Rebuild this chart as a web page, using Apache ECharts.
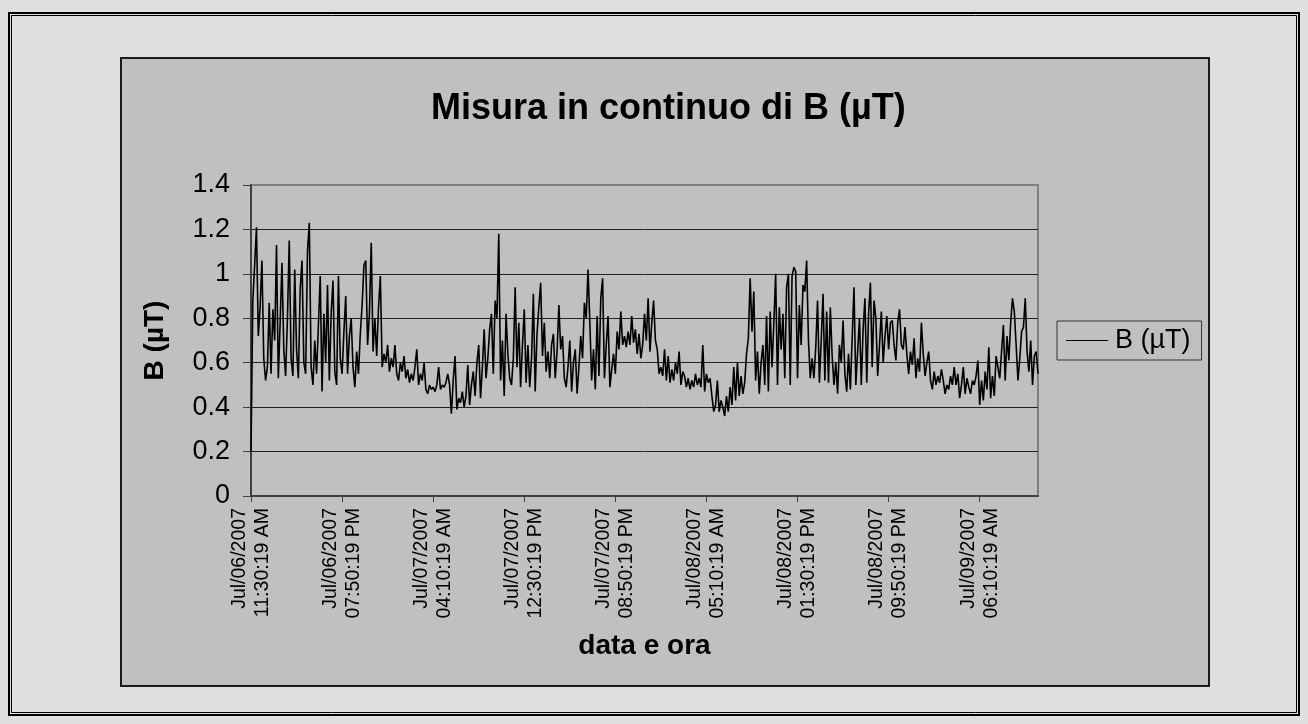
<!DOCTYPE html>
<html>
<head>
<meta charset="utf-8">
<script src="https://cdn.jsdelivr.net/npm/echarts@6/dist/echarts.min.js"></script>
<style>
html,body{margin:0;padding:0;background:#DFDFDF;}
#c{width:1308px;height:724px;}
</style>
</head>
<body>
<div id="c"></div>
<script>
// Title and series name
const chartTitle = 'Misura in continuo di B (µT)';
const seriesName = 'B (µT)';
const xTitle = 'data e ora';
const yTitle = 'B (µT)';

// Tick labels shown every 50 samples (10-minute samples, 500 min apart)
const tickLabels = [
  'Jul/06/2007\n11:30:19 AM',
  'Jul/06/2007\n07:50:19 PM',
  'Jul/07/2007\n04:10:19 AM',
  'Jul/07/2007\n12:30:19 PM',
  'Jul/07/2007\n08:50:19 PM',
  'Jul/08/2007\n05:10:19 AM',
  'Jul/08/2007\n01:30:19 PM',
  'Jul/08/2007\n09:50:19 PM',
  'Jul/09/2007\n06:10:19 AM'
];
const tickEvery = 50;

// B values (µT)
const valuesA = [
0.20,0.88,1.04,1.21,0.72,0.85,1.06,0.62,0.52,0.58,
0.87,0.55,0.84,0.70,1.13,0.53,0.78,1.05,0.66,0.54,
0.80,1.15,0.62,0.54,1.02,0.66,0.53,0.93,1.06,0.60,
0.55,1.10,1.23,0.58,0.50,0.70,0.55,0.77,0.99,0.47,
0.82,0.60,0.95,0.52,0.82,0.97,0.56,0.50,0.99,0.62,
0.55,0.74,0.90,0.55,0.72,0.80,0.58,0.49,0.65,0.55,
0.73,0.86,1.04,1.06,0.68,0.82,1.14,0.65,0.80,0.63,
0.85,0.99,0.58,0.64,0.60,0.68,0.56,0.62,0.58,0.68,
0.55,0.52,0.60,0.56,0.63,0.53,0.57,0.51,0.55,0.52,
0.58,0.66,0.50,0.55,0.52,0.60,0.48,0.46,0.50,0.48,
0.49,0.47,0.50,0.58,0.48,0.50,0.49,0.51
];
const valuesB = [
0.55,0.50,0.37,0.52,0.63,0.39,0.44,0.42,0.47,0.40,
0.45,0.59,0.41,0.50,0.56,0.45,0.60,0.68,0.44,0.58,
0.75,0.53,0.62,0.75,0.82,0.55,0.88,0.80,1.18,0.52,
0.70,0.45,0.82,0.64,0.53,0.50,0.62,0.94,0.58,0.78,
0.49,0.68,0.84,0.51,0.68,0.49,0.62,0.91,0.47,0.73,
0.85,0.96,0.63,0.78,0.56,0.65,0.53,0.68,0.73,0.53,
0.65,0.86,0.66,0.72,0.53,0.49,0.58,0.70,0.47,0.60,
0.66,0.46,0.58,0.72,0.62,0.87,0.80,1.02,0.78,0.52,
0.66,0.48,0.81,0.54,0.89,0.98,0.53,0.68,0.81,0.49,
0.57,0.64,0.55,0.74,0.66,0.83,0.68,0.72,0.67,0.74,
0.68,0.81,0.69,0.75,0.64,0.73,0.62,0.68,0.82
];
const valuesC = [
0.70,0.89,0.65,0.78,0.88,0.70,0.66,0.55,0.58,0.54,
0.66,0.52,0.63,0.51,0.57,0.52,0.60,0.55,0.65,0.50,
0.56,0.54,0.49,0.53,0.48,0.52,0.49,0.55,0.50,0.53,
0.49,0.68,0.47,0.55,0.51,0.53,0.45,0.38,0.41,0.52,
0.38,0.43,0.40,0.36,0.45,0.38,0.49,0.41,0.58,0.43,
0.60,0.45,0.54,0.46,0.51,0.64,0.71,0.98,0.74,0.92,
0.52,0.65,0.46,0.60,0.68,0.50,0.81,0.47,0.83,0.58,
0.78,1.00,0.50,0.85,0.66,0.82,0.53,0.94,1.00,0.50,
0.99,1.03,1.01,0.53,0.86,0.68,0.95,0.92,1.06,0.70,
0.53,0.62,0.53,0.67,0.88,0.51,0.70,0.91,0.52,0.83,
0.51,0.85,0.63,0.50,0.60,0.46,0.68,0.60,0.79
];
const valuesD = [
0.55,0.47,0.64,0.48,0.71,0.94,0.50,0.65,0.80,0.50,
0.75,0.89,0.51,0.82,0.96,0.58,0.88,0.80,0.54,0.68,
0.83,0.60,0.72,0.81,0.66,0.78,0.79,0.68,0.61,0.78,
0.84,0.68,0.66,0.76,0.64,0.55,0.65,0.59,0.71,0.53,
0.62,0.56,0.78,0.64,0.54,0.60,0.65,0.52,0.48,0.56,
0.50,0.54,0.51,0.57,0.52,0.46,0.50,0.48,0.54,0.50,
0.58,0.50,0.55,0.44,0.50,0.58,0.46,0.53,0.49,0.46,
0.52,0.50,0.54,0.61,0.41,0.52,0.43,0.56,0.48,0.67,
0.44,0.54,0.45,0.63,0.58,0.53,0.65,0.77,0.52,0.72,
0.61,0.78,0.89,0.83,0.68,0.52,0.62,0.74,0.76,0.89,
0.65,0.56,0.70,0.50,0.63,0.65,0.55
];
const values = valuesA.concat(valuesB, valuesC, valuesD);
const categories = values.map((v, i) => String(i));

const FONT = '"Liberation Sans", Arial, sans-serif';
const chart = echarts.init(document.getElementById('c'), null, {renderer: 'canvas'});

chart.setOption({
  animation: false,
  backgroundColor: '#DFDFDF',
  textStyle: {fontFamily: FONT, color: '#000'},
  graphic: [
    {type: 'rect', z: -10, shape: {x: 9, y: 13, width: 1290, height: 702},
     style: {fill: 'none', stroke: '#000', lineWidth: 2}},
    {type: 'rect', z: -10, shape: {x: 11.5, y: 15.5, width: 1285, height: 697},
     style: {fill: 'none', stroke: '#000', lineWidth: 1}},
    {type: 'rect', z: -10, shape: {x: 121, y: 58, width: 1088, height: 628},
     style: {fill: '#C0C0C0', stroke: '#1a1a1a', lineWidth: 2}}
  ],
  title: {
    text: chartTitle,
    left: 426, top: 86,
    textStyle: {fontFamily: FONT, fontSize: 36, fontWeight: 'bold', color: '#000'}
  },
  legend: {
    data: [seriesName],
    left: 1057, top: 321,
    orient: 'vertical',
    padding: [6, 11, 6, 9],
    backgroundColor: '#C0C0C0',
    borderColor: '#333',
    borderWidth: 1,
    icon: 'rect',
    itemWidth: 42,
    itemHeight: 1,
    textStyle: {fontFamily: FONT, fontSize: 27, color: '#000', padding: [0, 0, 0, 2]}
  },
  grid: {
    left: 251, top: 185, right: 270, bottom: 228,
    show: true, backgroundColor: '#C0C0C0', borderColor: '#808080', borderWidth: 2
  },
  xAxis: {
    type: 'category',
    data: categories,
    boundaryGap: false,
    name: xTitle,
    nameLocation: 'middle',
    nameGap: 136,
    nameTextStyle: {fontFamily: FONT, fontSize: 28, fontWeight: 'bold', color: '#000'},
    axisLine: {lineStyle: {color: '#404040', width: 2}},
    axisTick: {show: true, interval: tickEvery - 1, length: 6, lineStyle: {color: '#404040', width: 1}},
    axisLabel: {
      interval: tickEvery - 1,
      rotate: 90,
      margin: 12,
      fontFamily: FONT, fontSize: 19.5, lineHeight: 23, color: '#000',
      formatter: function (v, i) { return tickLabels[Math.round(i / tickEvery)] || ''; }
    },
    splitLine: {show: false}
  },
  yAxis: {
    type: 'value',
    min: 0, max: 1.4, interval: 0.2,
    name: yTitle,
    nameLocation: 'middle',
    nameGap: 82,
    nameRotate: 90,
    nameTextStyle: {fontFamily: FONT, fontSize: 28, fontWeight: 'bold', color: '#000'},
    axisLine: {show: true, lineStyle: {color: '#404040', width: 2}},
    axisTick: {show: true, length: 8, lineStyle: {color: '#404040', width: 1}},
    axisLabel: {margin: 21, fontFamily: FONT, fontSize: 27, color: '#000'},
    splitLine: {show: true, lineStyle: {color: ['#222','#222','#222','#222','#222','#222','#222','#808080'], width: 1}}
  },
  series: [{
    name: seriesName,
    type: 'line',
    data: values,
    symbol: 'none',
    color: '#000',
    lineStyle: {color: '#000', width: 1.6},
    z: 3
  }]
});
</script>
</body>
</html>
